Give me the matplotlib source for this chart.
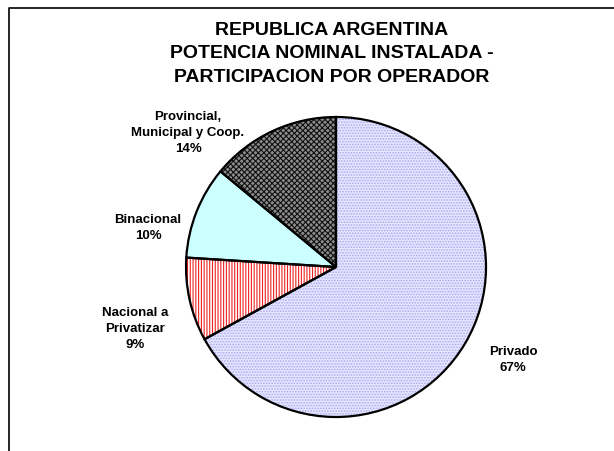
import matplotlib
matplotlib.use("Agg")
import matplotlib.pyplot as plt

plt.rcParams["font.family"] = ["Liberation Sans", "DejaVu Sans"]
plt.rcParams["hatch.linewidth"] = 0.8

# data
operadores = ["Privado", "Nacional a\nPrivatizar", "Binacional", "Provincial,\nMunicipal y Coop."]
porcentajes = [67, 9, 10, 14]

colores = ["#e6e6ff", "#ffffff", "#ccffff", "#8c8c8c"]
tramas = ["......", "||||||", "", "xxxxxx"]
color_trama = ["#a8a8f0", "#ee2222", "#ccffff", "#111111"]
# label positions in pixel coords (x, y from top)
pos_etiquetas = [(513, 360), (135, 329), (148, 228), (188, 133)]

W, H = 614, 452
fig = plt.figure(figsize=(W / 100, H / 100), dpi=100)
ax = fig.add_axes([0, 0, 1, 1])

cx, cy, r = 336, H - 268, 150

# fill + pattern
wedges, _ = ax.pie(porcentajes, startangle=90, counterclock=False,
                   center=(cx, cy), radius=r, colors=colores,
                   wedgeprops=dict(linewidth=0))
for w, h, hc in zip(wedges, tramas, color_trama):
    w.set_hatch(h)
    w.set_edgecolor(hc)

# outlines
ax.pie(porcentajes, startangle=90, counterclock=False, center=(cx, cy), radius=r,
       wedgeprops=dict(fill=False, edgecolor="black", linewidth=1.6))

for nombre, val, (x, y) in zip(operadores, porcentajes, pos_etiquetas):
    ax.text(x, H - y, f"{nombre}\n{val}%", ha="center", va="center",
            fontsize=9.5, fontweight="bold", linespacing=1.45)

ax.text(332, H - 54, "REPUBLICA ARGENTINA\nPOTENCIA NOMINAL INSTALADA -\nPARTICIPACION POR OPERADOR",
        ha="center", va="center", fontsize=14, fontweight="bold", linespacing=1.5)

# chart area border (left and top only visible)
ax.plot([9, 9, W], [0, H - 9, H - 9], color="black", linewidth=1.2)

ax.set_xlim(0, W)
ax.set_ylim(0, H)
ax.set_aspect("auto")
ax.axis("off")
fig.savefig("out.png", dpi=100)
